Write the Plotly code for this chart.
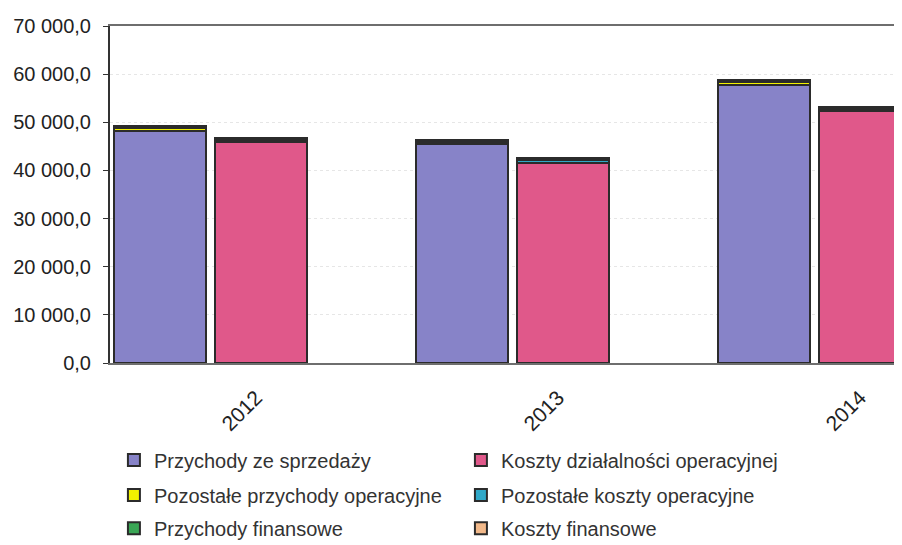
import plotly.graph_objects as go

years = [2012, 2013, 2014]
year_labels = ["2012", "2013", "2014"]

przychody_sprzedaz = [48200, 45400, 57700]
pozostale_przychody_oper = [600, 500, 600]
przychody_fin = [400, 400, 500]

koszty_dzial_oper = [45900, 41500, 52300]
pozostale_koszty_oper = [500, 700, 500]
koszty_fin = [300, 400, 400]

y_ticks = [0, 10000, 20000, 30000, 40000, 50000, 60000, 70000]

rev_pos = [y - 0.334 for y in years]
cost_pos = [y + 0.0 for y in years]

border = dict(color="#2b2b2b", width=2)
W = 0.305
fnt = "Liberation Sans, Arial, sans-serif"

fig = go.Figure()
series = [
    ("Przychody ze sprzedaży", przychody_sprzedaz, rev_pos, "#8783c8", "legend"),
    ("Koszty działalności operacyjnej", koszty_dzial_oper, cost_pos, "#e0588a", "legend"),
    ("Pozostałe przychody operacyjne", pozostale_przychody_oper, rev_pos, "#f2f200", "legend2"),
    ("Pozostałe koszty operacyjne", pozostale_koszty_oper, cost_pos, "#2fa8c8", "legend2"),
    ("Przychody finansowe", przychody_fin, rev_pos, "#3aa655", "legend3"),
    ("Koszty finansowe", koszty_fin, cost_pos, "#f2b98a", "legend3"),
]
for name, vals, pos, col, lg in series:
    fig.add_trace(go.Bar(
        x=pos, y=vals, name=name, width=W,
        marker=dict(color=col, line=border),
        legend=lg,
    ))

leg_common = dict(orientation="h", xanchor="left", yanchor="middle",
                  traceorder="normal",
                  font=dict(family=fnt, size=20, color="#333333"),
                  entrywidth=302, bgcolor="rgba(0,0,0,0)", itemclick=False)

# the page body adds an 8px offset; size and margins compensate for it
fig.update_layout(
    barmode="stack",
    width=886, height=545,
    margin=dict(l=102, r=0, t=18, b=190, autoexpand=False),
    paper_bgcolor="white", plot_bgcolor="white",
    separators=", ",
    font=dict(family=fnt, size=20, color="#222222"),
    xaxis=dict(
        range=[2011.5, 2014.096], automargin=False,
        tickvals=years, ticktext=year_labels, tickangle=-45,
        ticklabelshift=-5, ticklabelstandoff=12,
        showgrid=False, zeroline=False,
        showline=True, linecolor="#6e6e6e", linewidth=2, mirror=True,
        ticks="", tickfont=dict(family=fnt, size=21, color="#222222"),
    ),
    yaxis=dict(
        range=[0, 70000], tickvals=y_ticks, tickformat=",.1f", automargin=False,
        showgrid=True, gridcolor="#e6e6e6", griddash="dot", gridwidth=1,
        zeroline=False,
        showline=True, linecolor="#333333", linewidth=2,
        ticks="outside", ticklen=5, tickcolor="#333333", tickwidth=1,
        ticklabelstandoff=8,
        tickfont=dict(family=fnt, size=20, color="#222222"),
    ),
    legend=dict(x=0.005, y=-0.288, **leg_common),
    legend2=dict(x=0.005, y=-0.392, **leg_common),
    legend3=dict(x=0.005, y=-0.490, **leg_common),
    showlegend=True,
)

fig.write_html("out.html")
